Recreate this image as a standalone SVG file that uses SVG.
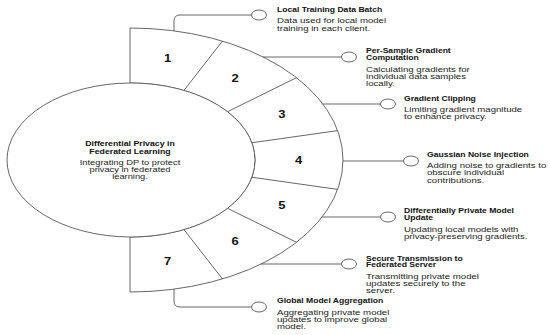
<svg xmlns="http://www.w3.org/2000/svg" width="550" height="335" viewBox="0 0 550 335">
<style>
text{font-family:"Liberation Sans",Arial,sans-serif;fill:#111}
.h{font-weight:bold;font-size:6.6px}
.d{font-size:7px;fill:#222}
.n{font-weight:bold;font-size:10px;text-anchor:middle}
.c text{text-anchor:middle}
.ln{fill:none;stroke:#555;stroke-width:0.9}
.dot{fill:#fff;stroke:#555;stroke-width:0.9}
.seg{fill:#fff;stroke:#555;stroke-width:0.9}
</style>
<rect width="550" height="335" fill="#fff"/>
<g id="ring">
<path class="seg" d="M130,28 A213,132 0 0 1 130,292 L130,237 A125,77 0 0 0 130,83 Z"/>
<path class="ln" d="M183.8,90.6 L222.4,41.1 M226.9,112 L296.5,77.7 M250.9,142.9 L337.7,130.6 M250.9,177.1 L337.7,189.4 M226.9,208 L296.5,242.3 M183.8,229.4 L222.4,278.9"/>
</g>
<g id="center">
<ellipse class="seg" cx="131" cy="160" rx="124" ry="77"/>
<g class="c" transform="translate(130 0) scale(1.33 1)">
<text class="h" x="0" y="146.3">Differential Privacy in</text>
<text class="h" x="0" y="154.3">Federated Learning</text>
<text class="d" x="0" y="165.5">Integrating DP to protect</text>
<text class="d" x="0" y="172.5">privacy in federated</text>
<text class="d" x="0" y="179.5">learning.</text>
</g>
</g>
<g id="numbers">
<text class="n" transform="translate(167.5 61.6) scale(1.3 1)">1</text>
<text class="n" transform="translate(235.1 81.8) scale(1.3 1)">2</text>
<text class="n" transform="translate(281.8 118.2) scale(1.3 1)">3</text>
<text class="n" transform="translate(298.5 163.5) scale(1.3 1)">4</text>
<text class="n" transform="translate(281.8 208.8) scale(1.3 1)">5</text>
<text class="n" transform="translate(235.1 245.2) scale(1.3 1)">6</text>
<text class="n" transform="translate(167.5 265.4) scale(1.3 1)">7</text>
</g>
<g id="connectors">
<path class="ln" d="M174,31 V21 Q174,15 180,15 H251.5"/>
<path class="ln" d="M263,57 H341.5"/>
<path class="ln" d="M323,104 H380.5"/>
<path class="ln" d="M343,161 H403.5"/>
<path class="ln" d="M322,217 H380.5"/>
<path class="ln" d="M261,264 H341.5"/>
<path class="ln" d="M174,289 V301 Q174,307 180,307 H251.5"/>
</g>
<g id="step1">
<ellipse class="dot" cx="259" cy="15" rx="7.5" ry="5"/>
<g transform="translate(277 0) scale(1.3 1)">
<text class="h" x="0" y="11.6">Local Training Data Batch</text>
<g transform="scale(1.06 1)">
<text class="d" x="0" y="23.5">Data used for local model</text>
<text class="d" x="0" y="30.6">training in each client.</text>
</g>
</g>
</g>
<g id="step2">
<ellipse class="dot" cx="349" cy="57" rx="7.5" ry="5"/>
<g transform="translate(366 0) scale(1.3 1)">
<text class="h" x="0" y="53.5">Per-Sample Gradient</text>
<text class="h" x="0" y="60.5">Computation</text>
<g transform="scale(1.06 1)">
<text class="d" x="0" y="72.5">Calculating gradients for</text>
<text class="d" x="0" y="79.5">individual data samples</text>
<text class="d" x="0" y="86.5">locally.</text>
</g>
</g>
</g>
<g id="step3">
<ellipse class="dot" cx="388" cy="104" rx="7.5" ry="5"/>
<g transform="translate(404 0) scale(1.3 1)">
<text class="h" x="0" y="101.3">Gradient Clipping</text>
<g transform="scale(1.06 1)">
<text class="d" x="0" y="112.5">Limiting gradient magnitude</text>
<text class="d" x="0" y="119.5">to enhance privacy.</text>
</g>
</g>
</g>
<g id="step4">
<ellipse class="dot" cx="411" cy="161" rx="7.5" ry="5"/>
<g transform="translate(427 0) scale(1.3 1)">
<text class="h" x="0" y="157.5">Gaussian Noise Injection</text>
<g transform="scale(1.06 1)">
<text class="d" x="0" y="168.5">Adding noise to gradients to</text>
<text class="d" x="0" y="175.5">obscure individual</text>
<text class="d" x="0" y="183">contributions.</text>
</g>
</g>
</g>
<g id="step5">
<ellipse class="dot" cx="388" cy="217" rx="7.5" ry="5"/>
<g transform="translate(404 0) scale(1.3 1)">
<text class="h" x="0" y="213">Differentially Private Model</text>
<text class="h" x="0" y="220">Update</text>
<g transform="scale(1.06 1)">
<text class="d" x="0" y="232">Updating local models with</text>
<text class="d" x="0" y="239">privacy-preserving gradients.</text>
</g>
</g>
</g>
<g id="step6">
<ellipse class="dot" cx="349" cy="264" rx="7.5" ry="5"/>
<g transform="translate(366 0) scale(1.3 1)">
<text class="h" x="0" y="260.6">Secure Transmission to</text>
<text class="h" x="0" y="267.3">Federated Server</text>
<g transform="scale(1.06 1)">
<text class="d" x="0" y="279">Transmitting private model</text>
<text class="d" x="0" y="286">updates securely to the</text>
<text class="d" x="0" y="293">server.</text>
</g>
</g>
</g>
<g id="step7">
<ellipse class="dot" cx="259" cy="307" rx="7.5" ry="5"/>
<g transform="translate(277 0) scale(1.3 1)">
<text class="h" x="0" y="303.3">Global Model Aggregation</text>
<g transform="scale(1.06 1)">
<text class="d" x="0" y="314.6">Aggregating private model</text>
<text class="d" x="0" y="321.6">updates to improve global</text>
<text class="d" x="0" y="329">model.</text>
</g>
</g>
</g>
</svg>
